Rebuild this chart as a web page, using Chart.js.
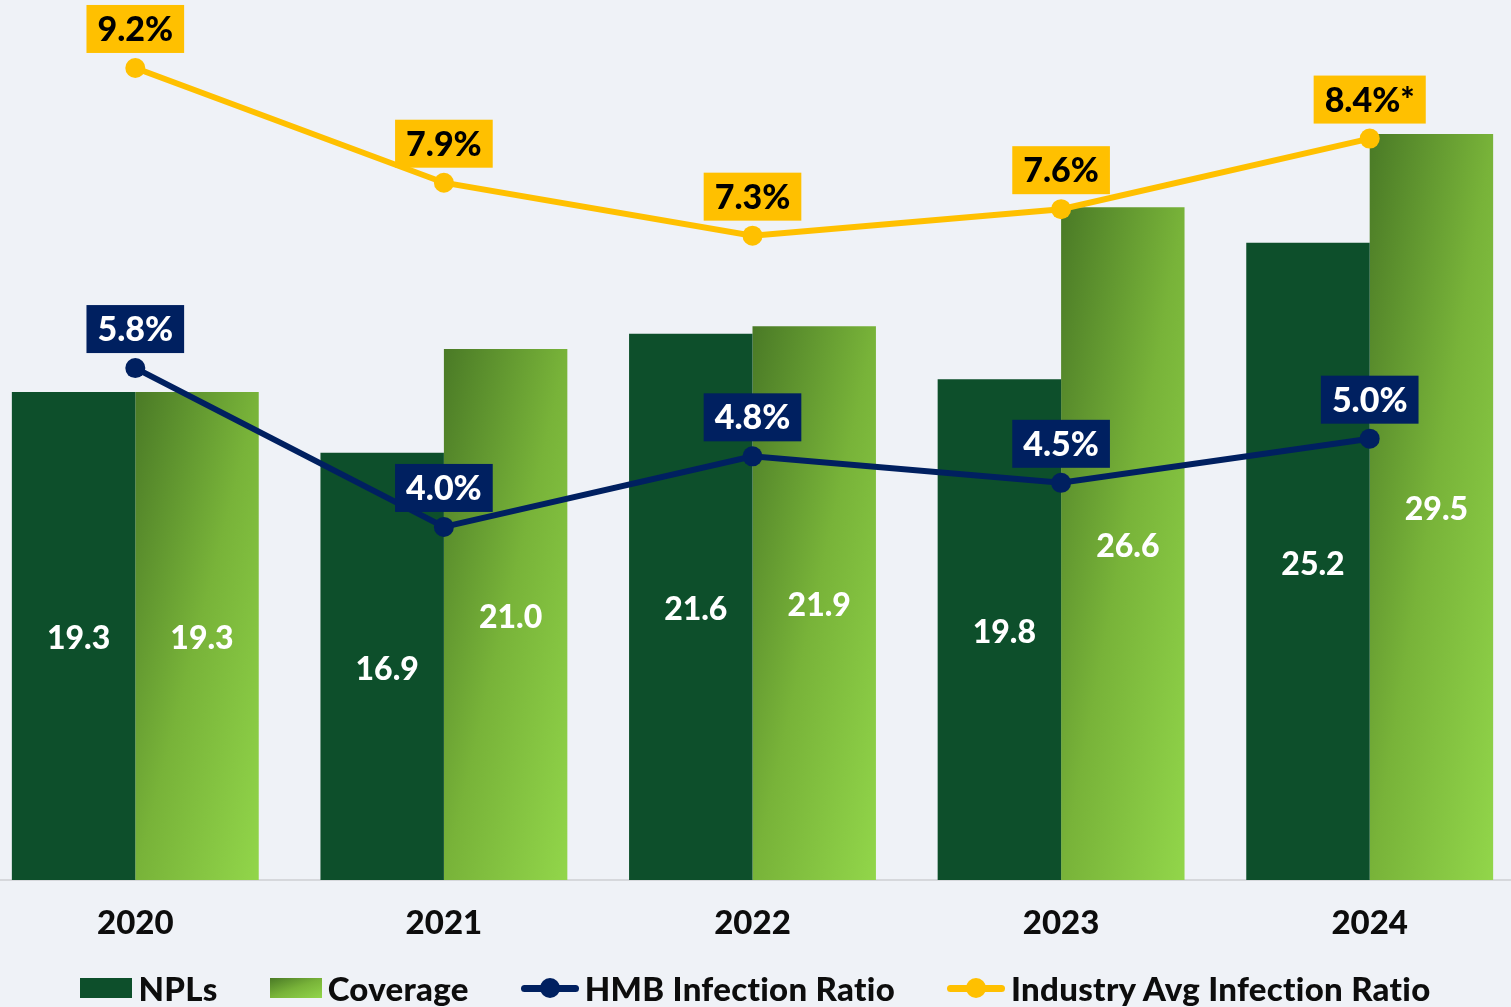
<!DOCTYPE html>
<html>
<head>
<meta charset="utf-8">
<script src="https://cdn.jsdelivr.net/npm/chart.js@4/dist/chart.umd.min.js"></script>
<style>
  body { margin: 0; background: #eff2f7; width: 1511px; height: 1007px; overflow: hidden; position: relative; font-family: Lato, sans-serif; }
  #wrap { position: absolute; left: -19px; top: 0; width: 1543px; height: 1007px; }
  #legend { position: absolute; left: 0; top: 968px; width: 1511px; height: 40px; display: flex; justify-content: center; align-items: center; gap: 52px; font-weight: 900; font-size: 33px; letter-spacing: 0.3px; font-variant-ligatures: none; color: #0d0d0d; }
  .item { display: flex; align-items: center; gap: 6px; }
  .box { width: 52px; height: 20px; }
  .ln { position: relative; width: 58px; height: 20px; }
  .ln::before { content: ""; position: absolute; left: 0; right: 0; top: 7px; height: 7px; border-radius: 4px; background: var(--c); }
  .ln::after { content: ""; position: absolute; left: 19px; top: 0; width: 20px; height: 20px; border-radius: 50%; background: var(--c); }
</style>
</head>
<body>
<div id="wrap"><canvas id="chart"></canvas></div>
<div id="legend">
  <div class="item"><span class="box" style="background:#0d4f2b"></span>NPLs</div>
  <div class="item"><span class="box" style="background:linear-gradient(160deg,#4a7a26,#78b339 50%,#92d64a)"></span>Coverage</div>
  <div class="item"><span class="ln" style="--c:#002060"></span>HMB Infection Ratio</div>
  <div class="item"><span class="ln" style="--c:#ffc000"></span>Industry Avg Infection Ratio</div>
</div>
<script>
const years = ["2020", "2021", "2022", "2023", "2024"]
const npls = [19.3, 16.9, 21.6, 19.8, 25.2]
const coverage = [19.3, 21.0, 21.9, 26.6, 29.5]
const hmbRatio = [5.8, 4.0, 4.8, 4.5, 5.0]
const industryRatio = [9.2, 7.9, 7.3, 7.6, 8.4]
const hmbLabels = ["5.8%", "4.0%", "4.8%", "4.5%", "5.0%"]
const industryLabels = ["9.2%", "7.9%", "7.3%", "7.6%", "8.4%*"]

const FONT = "Lato, sans-serif"

/**
 * Diagonal gradient for one coverage bar, scaled to the bar's own box
 */
const coverageFill = (ctx) => {
    const chart = ctx.chart
    const xs = chart.scales.x, ys = chart.scales.y
    if (!xs || !ys || ctx.dataIndex === undefined) return "#78b339"
    const barW = xs.width / years.length * 0.8 / 2
    const x0 = xs.getPixelForValue(ctx.dataIndex)
    const y0 = ys.getPixelForValue(coverage[ctx.dataIndex])
    const w = barW, h = ys.getPixelForValue(0) - y0
    if (![x0, y0, w, h].every(Number.isFinite) || w <= 0 || h <= 0) return "#78b339"
    const dx = 2 * w * h * h / (w * w + h * h)
    const dy = 2 * w * w * h / (w * w + h * h)
    const g = chart.ctx.createLinearGradient(x0, y0, x0 + dx, y0 + dy)
    g.addColorStop(0, "#4a7a26")
    g.addColorStop(0.5, "#78b339")
    g.addColorStop(1, "#92d64a")
    return g
}

/**
 * Draws bar values inside the bars and boxed labels above the line points
 */
const labelPlugin = {
    id: "labels",
    afterDatasetsDraw(chart) {
        const c = chart.ctx
        c.save()
        c.textAlign = "center"
        c.textBaseline = "middle"
        ;[0, 1].forEach(di => {
            chart.getDatasetMeta(di).data.forEach((el, i) => {
                c.font = "900 32px " + FONT
                c.fillStyle = "#ffffff"
                c.fillText(chart.data.datasets[di].data[i].toFixed(1), el.x + 5, (el.y + el.base) / 2 + 3)
            })
        })
        const boxes = [[2, hmbLabels, "#002060", "#ffffff"], [3, industryLabels, "#ffc000", "#000000"]]
        boxes.forEach(([di, texts, bg, fg]) => {
            chart.getDatasetMeta(di).data.forEach((el, i) => {
                c.font = "900 34px " + FONT
                const tw = c.measureText(texts[i]).width
                const bw = tw + 22, bh = 48
                const bottom = el.y - 15
                c.fillStyle = bg
                c.fillRect(el.x - bw / 2, bottom - bh, bw, bh)
                c.fillStyle = fg
                c.fillText(texts[i], el.x, bottom - bh / 2 + 1)
            })
        })
        c.restore()
    }
}

new Chart(document.getElementById("chart"), {
    type: "bar",
    data: {
        labels: years,
        datasets: [
            { label: "NPLs", data: npls, backgroundColor: "#0d4f2b", yAxisID: "y", order: 1,
              categoryPercentage: 0.8, barPercentage: 1.0 },
            { label: "Coverage", data: coverage, backgroundColor: coverageFill, yAxisID: "y", order: 1,
              categoryPercentage: 0.8, barPercentage: 1.0 },
            { type: "line", label: "HMB Infection Ratio", data: hmbRatio, yAxisID: "y2", order: 0,
              borderColor: "#002060", backgroundColor: "#002060", borderWidth: 6, pointRadius: 10,
              pointBackgroundColor: "#002060", pointBorderWidth: 0, tension: 0, clip: false },
            { type: "line", label: "Industry Avg Infection Ratio", data: industryRatio, yAxisID: "y2", order: 0,
              borderColor: "#ffc000", backgroundColor: "#ffc000", borderWidth: 6, pointRadius: 10,
              pointBackgroundColor: "#ffc000", pointBorderWidth: 0, tension: 0, clip: false }
        ]
    },
    options: {
        responsive: true,
        maintainAspectRatio: false,
        animation: false,
        layout: { padding: 0, autoPadding: false },
        plugins: {
            legend: { display: false },
            tooltip: { enabled: false }
        },
        scales: {
            x: {
                grid: { display: false },
                border: { display: true, color: "#d6d8dc", width: 2 },
                ticks: { color: "#0d0d0d", padding: 16, font: { family: FONT, size: 33, weight: "900" } },
                afterFit: (scale) => { scale.height = 127 }
            },
            y: { display: false, min: 0, max: 34.8 },
            y2: { display: false, min: 0, max: 9.97 }
        }
    },
    plugins: [labelPlugin]
})
</script>
</body>
</html>
